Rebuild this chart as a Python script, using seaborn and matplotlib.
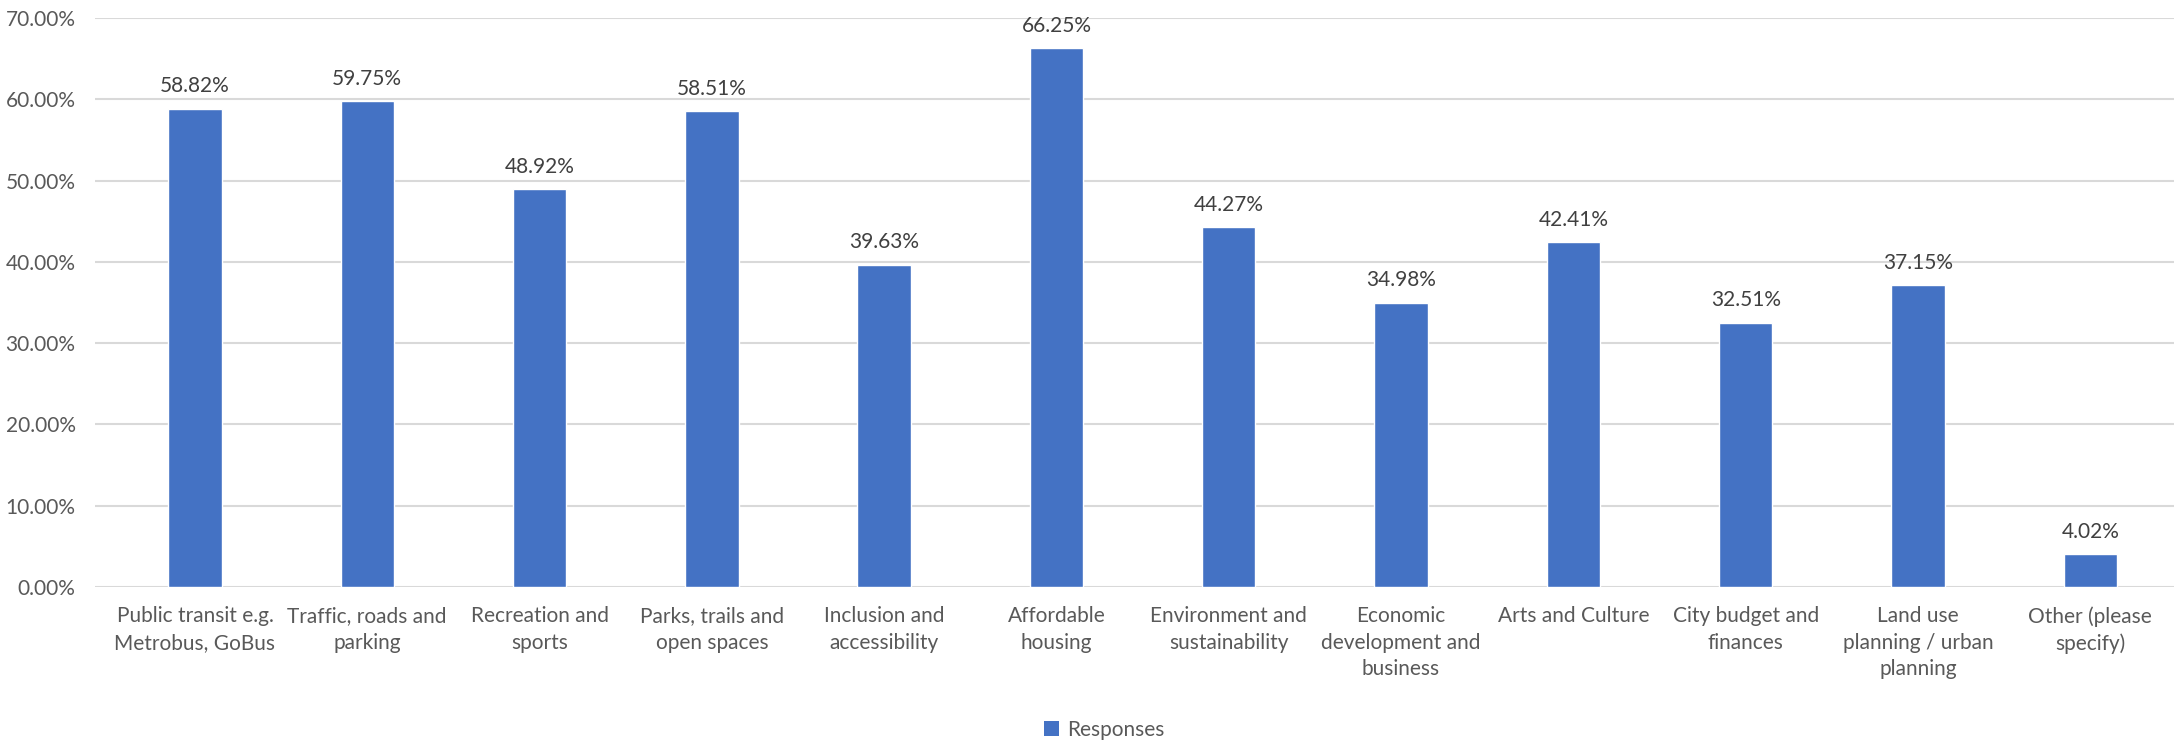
import matplotlib
matplotlib.use("Agg")
import matplotlib.pyplot as plt
import seaborn as sns
import pandas as pd
from matplotlib.patches import Patch
from matplotlib.ticker import FuncFormatter

categories = [
    "Public transit e.g.\nMetrobus, GoBus",
    "Traffic, roads and\nparking",
    "Recreation and\nsports",
    "Parks, trails and\nopen spaces",
    "Inclusion and\naccessibility",
    "Affordable\nhousing",
    "Environment and\nsustainability",
    "Economic\ndevelopment and\nbusiness",
    "Arts and Culture",
    "City budget and\nfinances",
    "Land use\nplanning / urban\nplanning",
    "Other (please\nspecify)",
]
values = [58.82, 59.75, 48.92, 58.51, 39.63, 66.25, 44.27, 34.98, 42.41, 32.51, 37.15, 4.02]
series_name = "Responses"
y_ticks = [0, 10, 20, 30, 40, 50, 60, 70]

sns.set_theme(style="white")
plt.rcParams["font.family"] = ["Lato", "DejaVu Sans"]

BAR = "#4472C4"
GRID = "#D9D9D9"
TXT = "#595959"

df = pd.DataFrame({"category": categories, "value": values})

fig = plt.figure(figsize=(21.74, 7.41), dpi=100)
ax = fig.add_axes([0.0437, 0.2078, 0.9563, 0.7679])

sns.barplot(data=df, x="category", y="value", color=BAR, width=0.31,
            saturation=1, ax=ax, zorder=3)

ax.set_ylim(0, 70)
ax.set_yticks(y_ticks)
ax.yaxis.set_major_formatter(FuncFormatter(lambda v, p: f"{v:.2f}%"))
ax.grid(axis="y", color=GRID, linewidth=1.5, zorder=0)
ax.set_axisbelow(True)
for s in ax.spines.values():
    s.set_visible(False)
ax.set_xlabel("")
ax.set_ylabel("")
ax.tick_params(axis="both", length=0, labelsize=15, colors=TXT)
ax.tick_params(axis="y", pad=14)
ax.tick_params(axis="x", pad=14)
for lbl in ax.get_xticklabels():
    lbl.set_linespacing(1.4)
ax.set_xlim(-0.58, 11.486)

for i, v in enumerate(values):
    ax.annotate(f"{v:.2f}%", (i, v), xytext=(0, 9), textcoords="offset points",
                ha="center", va="bottom", fontsize=15, color="#404040")

handles = [Patch(facecolor=BAR, edgecolor="none", label=series_name)]
fig.legend(handles=handles, loc="center", bbox_to_anchor=(0.508, 0.0148),
           frameon=False, fontsize=15, handlelength=0.7, handleheight=0.7,
           handletextpad=0.4, labelcolor=TXT, borderpad=0)

fig.savefig("out.png", dpi=100)
